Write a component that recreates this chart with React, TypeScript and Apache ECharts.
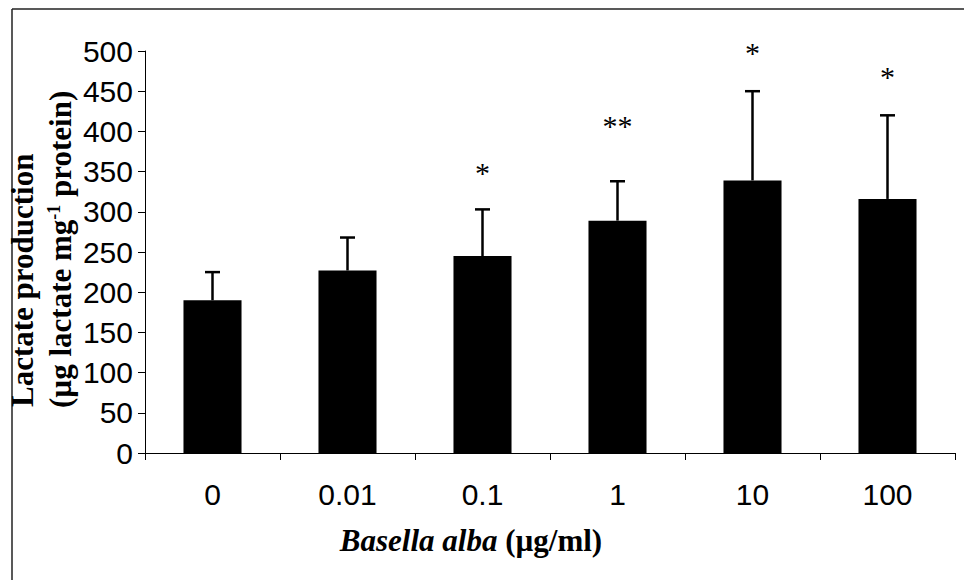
import React, { useEffect, useRef } from "react";
import * as echarts from "echarts";

const categories = ["0", "0.01", "0.1", "1", "10", "100"];
const means = [190, 227, 245, 289, 339, 316];
const errors = [35, 41, 58, 49, 111, 104];
const marks = ["", "", "*", "**", "*", "*"];
const markLevels: (number | null)[] = [null, null, 355, 414, 504, 475];
const yMin = 0;
const yMax = 500;
const yInterval = 50;

const SERIF = '"Liberation Serif", "Times New Roman", serif';
const SANS = '"Liberation Sans", Arial, sans-serif';

export default function App() {
  const ref = useRef<HTMLDivElement>(null);
  useEffect(() => {
    if (!ref.current) return;
    const chart = echarts.init(ref.current, undefined, { renderer: "svg" });
    const option: any = {
      animation: false,
      backgroundColor: "#ffffff",
      grid: { left: 145, right: 9, top: 51, bottom: 127, containLabel: false },
      xAxis: {
        type: "category",
        data: categories,
        axisLine: { show: true, lineStyle: { color: "#000", width: 1 } },
        axisTick: { show: true, inside: false, length: 7, alignWithLabel: false, lineStyle: { color: "#000", width: 1 } },
        axisLabel: { color: "#000", fontFamily: SANS, fontSize: 30, margin: 26 },
        splitLine: { show: false },
      },
      yAxis: {
        type: "value",
        min: yMin,
        max: yMax,
        interval: yInterval,
        axisLine: { show: true, lineStyle: { color: "#000", width: 1 } },
        axisTick: { show: true, inside: false, length: 7, lineStyle: { color: "#000", width: 1 } },
        axisLabel: { color: "#000", fontFamily: SANS, fontSize: 30, margin: 12 },
        splitLine: { show: false },
      },
      series: [
        {
          type: "bar",
          data: means,
          barWidth: "43%",
          itemStyle: { color: "#000" },
          z: 2,
        },
        {
          type: "custom",
          z: 3,
          clip: false,
          data: means.map((m, i) => [i, m + errors[i]]),
          encode: { x: 0, y: 1 },
          renderItem: (params: any, api: any) => {
            const i = params.dataIndex;
            const base = api.coord([i, means[i]]);
            const top = api.coord([i, means[i] + errors[i]]);
            const children: any[] = [
              {
                type: "line",
                shape: { x1: base[0], y1: base[1], x2: top[0], y2: top[1] },
                style: { stroke: "#000", lineWidth: 2.5 },
              },
              {
                type: "line",
                shape: { x1: top[0] - 7.5, y1: top[1], x2: top[0] + 7.5, y2: top[1] },
                style: { stroke: "#000", lineWidth: 2.5 },
              },
            ];
            const lvl = markLevels[i];
            if (marks[i] && lvl != null) {
              const p = api.coord([i, lvl]);
              children.push({
                type: "text",
                x: p[0],
                y: p[1] + 5,
                style: {
                  text: marks[i],
                  fontFamily: SERIF,
                  fontSize: 30,
                  fill: "#000",
                  align: "center",
                  verticalAlign: "middle",
                },
              });
            }
            return { type: "group", children };
          },
        },
      ],
      graphic: [
        {
          type: "line",
          shape: { x1: 12, y1: 9, x2: 964, y2: 9 },
          style: { stroke: "#222", lineWidth: 1.5 },
        },
        {
          type: "line",
          shape: { x1: 12, y1: 9, x2: 12, y2: 580 },
          style: { stroke: "#222", lineWidth: 1.5 },
        },
        {
          type: "text",
          x: 22,
          y: 407,
          rotation: Math.PI / 2,
          style: {
            text: "Lactate production",
            fontFamily: SERIF,
            fontWeight: "bold",
            fontSize: 31,
            fill: "#000",
            align: "left",
            verticalAlign: "middle",
          },
        },
        {
          type: "text",
          x: 60,
          y: 408,
          rotation: Math.PI / 2,
          style: {
            text: "{n|(µg lactate mg}{s|-1}{n| protein)}",
            fill: "#000",
            align: "left",
            verticalAlign: "middle",
            rich: {
              n: { fontFamily: SERIF, fontWeight: "bold", fontSize: 31, lineHeight: 31, fill: "#000" },
              s: { fontFamily: SERIF, fontWeight: "bold", fontSize: 18, lineHeight: 18, verticalAlign: "top", fill: "#000" },
            },
          },
        },
        {
          type: "text",
          x: 471,
          y: 540,
          style: {
            text: "{i|Basella alba}{n| (µg/ml)}",
            fill: "#000",
            align: "center",
            verticalAlign: "middle",
            rich: {
              i: { fontFamily: SERIF, fontWeight: "bold", fontStyle: "italic", fontSize: 31, fill: "#000" },
              n: { fontFamily: SERIF, fontWeight: "bold", fontSize: 31, fill: "#000" },
            },
          },
        },
      ],
    };
    chart.setOption(option);
    return () => chart.dispose();
  }, []);
  return (
    <div
      ref={ref}
      style={{ position: "absolute", left: 0, top: 0, width: 964, height: 580, background: "#fff" }}
    />
  );
}
